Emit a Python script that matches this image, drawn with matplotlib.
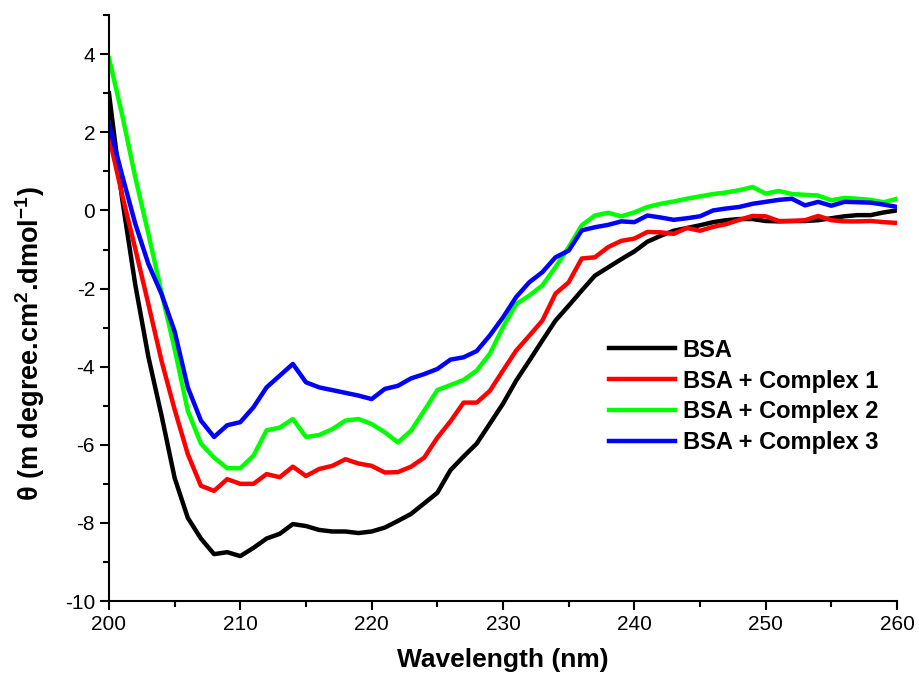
import matplotlib
matplotlib.use('Agg')
from matplotlib import pyplot as plt
from matplotlib.ticker import MultipleLocator
import numpy as np

plt.rcParams['font.family'] = ['Liberation Sans', 'DejaVu Sans']
plt.rcParams['axes.unicode_minus'] = False
plt.rcParams['mathtext.fontset'] = 'custom'
plt.rcParams['mathtext.rm'] = 'Liberation Sans'
plt.rcParams['mathtext.bf'] = 'Liberation Sans:bold'

wavelength = np.arange(200, 261)

bsa = [3.0, 0.3, -1.9, -3.75, -5.25, -6.85, -7.87, -8.4, -8.8, -8.75,
       -8.85, -8.64, -8.4, -8.28, -8.03, -8.08, -8.18, -8.22, -8.22, -8.26,
       -8.22, -8.12, -7.95, -7.77, -7.5, -7.23, -6.65, -6.3, -5.97, -5.46,
       -4.95, -4.36, -3.85, -3.33, -2.82, -2.44, -2.05, -1.67, -1.46, -1.25,
       -1.05, -0.8, -0.65, -0.52, -0.45, -0.38, -0.3, -0.25, -0.22, -0.22,
       -0.27, -0.28, -0.27, -0.27, -0.25, -0.2, -0.15, -0.12, -0.12, -0.05,
       0.0]

complex1 = [1.9, 0.4, -0.98, -2.4, -3.85, -5.1, -6.24, -7.05, -7.18, -6.88,
            -7.0, -7.0, -6.75, -6.83, -6.56, -6.8, -6.62, -6.54, -6.37, -6.48,
            -6.54, -6.71, -6.7, -6.56, -6.33, -5.82, -5.4, -4.92, -4.92, -4.62,
            -4.1, -3.59, -3.21, -2.82, -2.13, -1.84, -1.23, -1.2, -0.94, -0.78,
            -0.72, -0.55, -0.56, -0.6, -0.45, -0.52, -0.42, -0.35, -0.24, -0.14,
            -0.15, -0.27, -0.27, -0.25, -0.14, -0.25, -0.28, -0.28, -0.27, -0.3,
            -0.32]

complex2 = [3.9, 2.45, 0.85, -0.6, -2.1, -3.55, -5.13, -5.97, -6.33, -6.6,
            -6.6, -6.28, -5.63, -5.56, -5.34, -5.8, -5.75, -5.6, -5.38, -5.34,
            -5.47, -5.68, -5.94, -5.64, -5.13, -4.6, -4.47, -4.34, -4.1, -3.67,
            -2.99, -2.4, -2.18, -1.92, -1.45, -0.94, -0.38, -0.13, -0.06, -0.15,
            -0.05, 0.09, 0.17, 0.23, 0.3, 0.36, 0.42, 0.46, 0.52, 0.6,
            0.43, 0.5, 0.42, 0.4, 0.38, 0.26, 0.32, 0.3, 0.27, 0.21,
            0.3]

complex3 = [2.2, 0.9, -0.34, -1.37, -2.14, -3.1, -4.53, -5.38, -5.8, -5.5,
            -5.42, -5.04, -4.53, -4.23, -3.93, -4.4, -4.53, -4.6, -4.67, -4.74,
            -4.83, -4.57, -4.49, -4.3, -4.19, -4.06, -3.82, -3.76, -3.6, -3.2,
            -2.74, -2.22, -1.84, -1.58, -1.2, -1.03, -0.51, -0.43, -0.37, -0.28,
            -0.3, -0.13, -0.18, -0.24, -0.2, -0.15, 0.0, 0.05, 0.09, 0.17,
            0.22, 0.27, 0.3, 0.13, 0.22, 0.12, 0.22, 0.21, 0.2, 0.15,
            0.09]

series = [
    ('BSA', bsa, '#000000'),
    ('BSA + Complex 1', complex1, '#ff0000'),
    ('BSA + Complex 2', complex2, '#00ff00'),
    ('BSA + Complex 3', complex3, '#0000ff'),
]

fig = plt.figure(1, figsize=(9.19, 6.89), dpi=100)
fig.subplots_adjust(left=0.1186, right=0.976, top=0.978, bottom=0.1277)
ax = fig.add_subplot(111)

for label, vals, color in series:
    ax.plot(wavelength, vals, color=color, lw=3.2, label=label)

ax.set_xlim(200, 260)
ax.set_ylim(-10, 5)
ax.xaxis.set_major_locator(MultipleLocator(10))
ax.xaxis.set_minor_locator(MultipleLocator(5))
ax.yaxis.set_minor_locator(MultipleLocator(1))
ax.set_yticks([-10, -8, -6, -4, -2, 0, 2, 4])

ax.spines['top'].set_visible(False)
ax.spines['right'].set_visible(False)
for s in ('left', 'bottom'):
    ax.spines[s].set_linewidth(1.5)

ax.tick_params(which='major', direction='out', length=6.5, width=1.5, labelsize=15)
ax.tick_params(which='minor', direction='out', length=4.5, width=1.5)

ax.set_xlabel('Wavelength (nm)', fontsize=19, fontweight='bold', labelpad=10)
ax.set_ylabel(r'θ (m degree.cm$^{\mathbf{2}}$.dmol$^{\mathbf{-1}}$)',
              fontsize=19.5, fontweight='bold')
ax.yaxis.set_label_coords(-0.0787, 0.4386)

leg = ax.legend(loc='upper left', bbox_to_anchor=(0.608, 0.484), frameon=False,
                prop={'weight': 'bold', 'size': 17}, handlelength=2.8,
                handletextpad=0.3, labelspacing=0.33)

fig.savefig('out.png', dpi=100)
